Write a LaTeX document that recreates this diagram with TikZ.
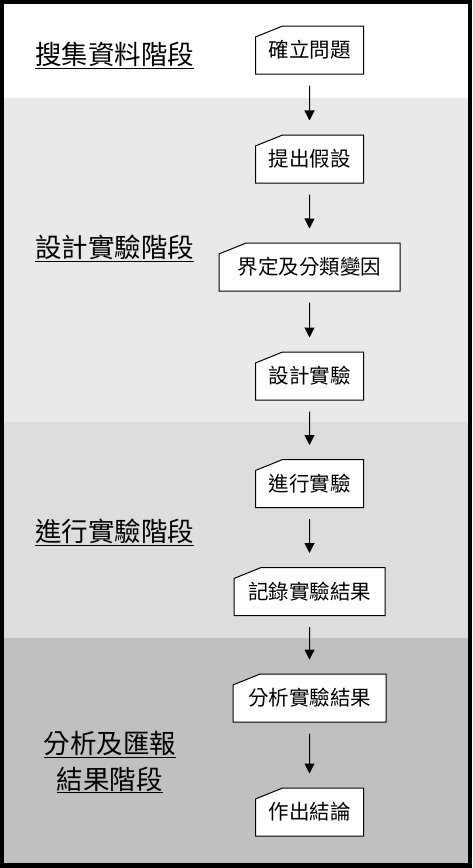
\documentclass[tikz,border=0pt]{standalone}
\usepackage{fontspec}
\usepackage{xcolor}
\newfontfamily\tcfont{Noto Sans CJK TC}
\usetikzlibrary{arrows.meta,shapes.misc}
\definecolor{bandA}{HTML}{E9E9E9}
\definecolor{bandB}{HTML}{DDDDDD}
\definecolor{bandC}{HTML}{C0C0C0}

\begin{document}
\begin{tikzpicture}[x=1pt, y=-1pt,
  stepbox/.style={draw, fill=white, line width=1pt, font=\tcfont\fontsize{20.5}{24}\selectfont,
              chamfered rectangle, chamfered rectangle corners=north west,
              chamfered rectangle angle=68, chamfered rectangle xsep=20pt,
              minimum width=108pt, minimum height=48pt, inner xsep=-8pt, inner ysep=0pt},
  stage/.style={font=\tcfont\fontsize{26.5}{36}\selectfont, align=center, inner sep=0pt},
  arr/.style={-{Triangle[width=10pt,length=10pt]}, line width=1pt,
              shorten <=11pt, shorten >=14pt},
]
% bands
\fill[black] (0,0) rectangle (472,868);
\fill[white] (4,4) rectangle (468,98);
\fill[bandA] (4,98) rectangle (468,422);
\fill[bandB] (4,422) rectangle (468,638);
\fill[bandC] (4,638) rectangle (468,863);
% stage labels
\node[stage, anchor=west] (s1) at (35,55)  {\underline{搜集資料階段}};
\node[stage, anchor=west] (s2) at (35,248) {\underline{設計實驗階段}};
\node[stage, anchor=west] (s3) at (35,532) {\underline{進行實驗階段}};
\node[stage] (s4) at (110,762) {\underline{分析及匯報}\\\underline{結果階段}};
% steps
\node[stepbox] (q)   at (309.5,50)    {確立問題};
\node[stepbox] (hyp) at (309.5,159)   {提出假設};
\node[stepbox, minimum width=181pt] (var) at (309.5,267) {界定及分類變因};
\node[stepbox] (des) at (309.5,376)   {設計實驗};
\node[stepbox] (run) at (309.5,483.5) {進行實驗};
\node[stepbox, minimum width=151pt] (rec) at (309.5,591.5) {記錄實驗結果};
\node[stepbox, minimum width=153pt] (ana) at (309.5,698)   {分析實驗結果};
\node[stepbox] (con) at (309.5,812)   {作出結論};
\draw[arr] (q)--(hyp);
\draw[arr] (hyp)--(var);
\draw[arr] (var)--(des);
\draw[arr] (des)--(run);
\draw[arr] (run)--(rec);
\draw[arr] (rec)--(ana);
\draw[arr] (ana)--(con);
\end{tikzpicture}
\end{document}
